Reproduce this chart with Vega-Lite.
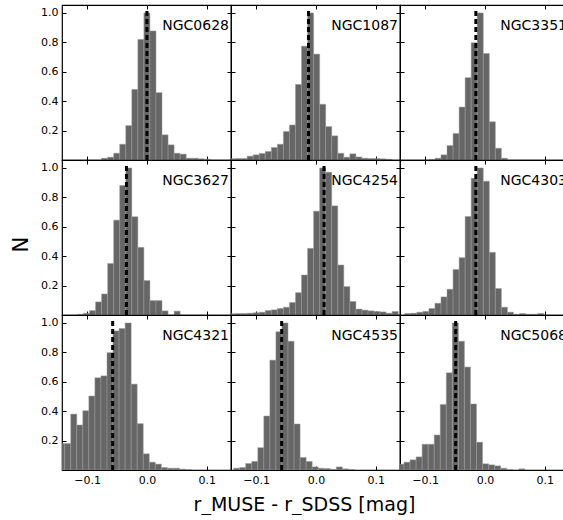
{
  "$schema": "https://vega.github.io/schema/vega-lite/v6.json",
  "padding": {"left": 10, "top": 3, "right": 0, "bottom": 0},
  "config": {
    "font": "DejaVu Sans",
    "view": {"stroke": "black", "strokeWidth": 1.2},
    "axis": {"grid": false, "domain": false, "labelFont": "DejaVu Sans", "labelFontSize": 11, "labelColor": "black", "tickColor": "black", "tickSize": -4, "tickCount": 10, "labelPadding": 8, "labelOverlap": false, "labelFlush": false, "titleFont": "DejaVu Sans", "titleFontWeight": "normal", "titleColor": "black"}
  },
  "title": {"text": "r_MUSE - r_SDSS [mag]", "orient": "bottom", "anchor": "middle", "font": "DejaVu Sans", "fontSize": 19, "fontWeight": "normal", "color": "black", "offset": 10, "dx": 14},
  "datasets": {
    "h": [
      {"g":"NGC0628","lo":-0.0758,"hi":-0.0657,"n":0.012},
      {"g":"NGC0628","lo":-0.0657,"hi":-0.0556,"n":0.019},
      {"g":"NGC0628","lo":-0.0556,"hi":-0.0455,"n":0.046},
      {"g":"NGC0628","lo":-0.0455,"hi":-0.0354,"n":0.107},
      {"g":"NGC0628","lo":-0.0354,"hi":-0.0253,"n":0.234},
      {"g":"NGC0628","lo":-0.0253,"hi":-0.0152,"n":0.48},
      {"g":"NGC0628","lo":-0.0152,"hi":-0.0051,"n":0.82},
      {"g":"NGC0628","lo":-0.0051,"hi":0.0050,"n":1.0},
      {"g":"NGC0628","lo":0.0050,"hi":0.0151,"n":0.878},
      {"g":"NGC0628","lo":0.0151,"hi":0.0252,"n":0.458},
      {"g":"NGC0628","lo":0.0252,"hi":0.0353,"n":0.171},
      {"g":"NGC0628","lo":0.0353,"hi":0.0454,"n":0.103},
      {"g":"NGC0628","lo":0.0454,"hi":0.0555,"n":0.046},
      {"g":"NGC0628","lo":0.0555,"hi":0.0656,"n":0.04},
      {"g":"NGC0628","lo":0.0656,"hi":0.0757,"n":0.012},
      {"g":"NGC0628","lo":0.0757,"hi":0.0858,"n":0.012},
      {"g":"NGC0628","lo":0.0858,"hi":0.0959,"n":0.008},
      {"g":"NGC0628","lo":0.0959,"hi":0.1060,"n":0.005},

      {"g":"NGC1087","lo":-0.1453,"hi":-0.1352,"n":0.008},
      {"g":"NGC1087","lo":-0.1352,"hi":-0.1251,"n":0.01},
      {"g":"NGC1087","lo":-0.1251,"hi":-0.1150,"n":0.01},
      {"g":"NGC1087","lo":-0.1150,"hi":-0.1049,"n":0.026},
      {"g":"NGC1087","lo":-0.1049,"hi":-0.0948,"n":0.035},
      {"g":"NGC1087","lo":-0.0948,"hi":-0.0847,"n":0.044},
      {"g":"NGC1087","lo":-0.0847,"hi":-0.0746,"n":0.058},
      {"g":"NGC1087","lo":-0.0746,"hi":-0.0645,"n":0.085},
      {"g":"NGC1087","lo":-0.0645,"hi":-0.0544,"n":0.107},
      {"g":"NGC1087","lo":-0.0544,"hi":-0.0443,"n":0.193},
      {"g":"NGC1087","lo":-0.0443,"hi":-0.0342,"n":0.238},
      {"g":"NGC1087","lo":-0.0342,"hi":-0.0241,"n":0.514},
      {"g":"NGC1087","lo":-0.0241,"hi":-0.0140,"n":0.774},
      {"g":"NGC1087","lo":-0.0140,"hi":-0.0039,"n":1.0},
      {"g":"NGC1087","lo":-0.0039,"hi":0.0062,"n":0.72},
      {"g":"NGC1087","lo":0.0062,"hi":0.0163,"n":0.379},
      {"g":"NGC1087","lo":0.0163,"hi":0.0264,"n":0.227},
      {"g":"NGC1087","lo":0.0264,"hi":0.0365,"n":0.164},
      {"g":"NGC1087","lo":0.0365,"hi":0.0466,"n":0.046},
      {"g":"NGC1087","lo":0.0466,"hi":0.0567,"n":0.019},
      {"g":"NGC1087","lo":0.0567,"hi":0.0668,"n":0.042},
      {"g":"NGC1087","lo":0.0668,"hi":0.0769,"n":0.021},
      {"g":"NGC1087","lo":0.0769,"hi":0.0870,"n":0.012},
      {"g":"NGC1087","lo":0.0870,"hi":0.0971,"n":0.01},
      {"g":"NGC1087","lo":0.0971,"hi":0.1072,"n":0.01},
      {"g":"NGC1087","lo":0.1072,"hi":0.1173,"n":0.008},
      {"g":"NGC1087","lo":0.1173,"hi":0.1274,"n":0.005},

      {"g":"NGC3351","lo":-0.0937,"hi":-0.0836,"n":0.004},
      {"g":"NGC3351","lo":-0.0836,"hi":-0.0735,"n":0.012},
      {"g":"NGC3351","lo":-0.0735,"hi":-0.0634,"n":0.035},
      {"g":"NGC3351","lo":-0.0634,"hi":-0.0533,"n":0.098},
      {"g":"NGC3351","lo":-0.0533,"hi":-0.0432,"n":0.18},
      {"g":"NGC3351","lo":-0.0432,"hi":-0.0331,"n":0.36},
      {"g":"NGC3351","lo":-0.0331,"hi":-0.0230,"n":0.56},
      {"g":"NGC3351","lo":-0.0230,"hi":-0.0129,"n":0.797},
      {"g":"NGC3351","lo":-0.0129,"hi":-0.0028,"n":1.0},
      {"g":"NGC3351","lo":-0.0028,"hi":0.0073,"n":0.724},
      {"g":"NGC3351","lo":0.0073,"hi":0.0174,"n":0.26},
      {"g":"NGC3351","lo":0.0174,"hi":0.0275,"n":0.08},
      {"g":"NGC3351","lo":0.0275,"hi":0.0376,"n":0.012},

      {"g":"NGC3627","lo":-0.1162,"hi":-0.1061,"n":0.005},
      {"g":"NGC3627","lo":-0.1061,"hi":-0.0960,"n":0.012},
      {"g":"NGC3627","lo":-0.0960,"hi":-0.0859,"n":0.03},
      {"g":"NGC3627","lo":-0.0859,"hi":-0.0758,"n":0.089},
      {"g":"NGC3627","lo":-0.0758,"hi":-0.0657,"n":0.143},
      {"g":"NGC3627","lo":-0.0657,"hi":-0.0556,"n":0.35},
      {"g":"NGC3627","lo":-0.0556,"hi":-0.0455,"n":0.645},
      {"g":"NGC3627","lo":-0.0455,"hi":-0.0354,"n":0.88},
      {"g":"NGC3627","lo":-0.0354,"hi":-0.0253,"n":1.0},
      {"g":"NGC3627","lo":-0.0253,"hi":-0.0152,"n":0.668},
      {"g":"NGC3627","lo":-0.0152,"hi":-0.0051,"n":0.46},
      {"g":"NGC3627","lo":-0.0051,"hi":0.0050,"n":0.234},
      {"g":"NGC3627","lo":0.0050,"hi":0.0151,"n":0.098},
      {"g":"NGC3627","lo":0.0151,"hi":0.0252,"n":0.098},
      {"g":"NGC3627","lo":0.0252,"hi":0.0353,"n":0.028},
      {"g":"NGC3627","lo":0.0454,"hi":0.0555,"n":0.026},

      {"g":"NGC4254","lo":-0.1453,"hi":-0.1352,"n":0.008},
      {"g":"NGC4254","lo":-0.1352,"hi":-0.1251,"n":0.01},
      {"g":"NGC4254","lo":-0.1251,"hi":-0.1150,"n":0.01},
      {"g":"NGC4254","lo":-0.1150,"hi":-0.1049,"n":0.012},
      {"g":"NGC4254","lo":-0.1049,"hi":-0.0948,"n":0.015},
      {"g":"NGC4254","lo":-0.0948,"hi":-0.0847,"n":0.019},
      {"g":"NGC4254","lo":-0.0847,"hi":-0.0746,"n":0.03},
      {"g":"NGC4254","lo":-0.0746,"hi":-0.0645,"n":0.035},
      {"g":"NGC4254","lo":-0.0645,"hi":-0.0544,"n":0.044},
      {"g":"NGC4254","lo":-0.0544,"hi":-0.0443,"n":0.053},
      {"g":"NGC4254","lo":-0.0443,"hi":-0.0342,"n":0.085},
      {"g":"NGC4254","lo":-0.0342,"hi":-0.0241,"n":0.152},
      {"g":"NGC4254","lo":-0.0241,"hi":-0.0140,"n":0.272},
      {"g":"NGC4254","lo":-0.0140,"hi":-0.0039,"n":0.453},
      {"g":"NGC4254","lo":-0.0039,"hi":0.0062,"n":0.706},
      {"g":"NGC4254","lo":0.0062,"hi":0.0163,"n":1.0},
      {"g":"NGC4254","lo":0.0163,"hi":0.0264,"n":0.97},
      {"g":"NGC4254","lo":0.0264,"hi":0.0365,"n":0.742},
      {"g":"NGC4254","lo":0.0365,"hi":0.0466,"n":0.34},
      {"g":"NGC4254","lo":0.0466,"hi":0.0567,"n":0.193},
      {"g":"NGC4254","lo":0.0567,"hi":0.0668,"n":0.092},
      {"g":"NGC4254","lo":0.0668,"hi":0.0769,"n":0.04},
      {"g":"NGC4254","lo":0.0769,"hi":0.0870,"n":0.033},
      {"g":"NGC4254","lo":0.0870,"hi":0.0971,"n":0.028},
      {"g":"NGC4254","lo":0.0971,"hi":0.1072,"n":0.024},
      {"g":"NGC4254","lo":0.1072,"hi":0.1173,"n":0.021},
      {"g":"NGC4254","lo":0.1173,"hi":0.1274,"n":0.012},
      {"g":"NGC4254","lo":0.1274,"hi":0.1375,"n":0.024},

      {"g":"NGC4303","lo":-0.1341,"hi":-0.1240,"n":0.01},
      {"g":"NGC4303","lo":-0.1240,"hi":-0.1139,"n":0.012},
      {"g":"NGC4303","lo":-0.1139,"hi":-0.1038,"n":0.019},
      {"g":"NGC4303","lo":-0.1038,"hi":-0.0937,"n":0.024},
      {"g":"NGC4303","lo":-0.0937,"hi":-0.0836,"n":0.044},
      {"g":"NGC4303","lo":-0.0836,"hi":-0.0735,"n":0.08},
      {"g":"NGC4303","lo":-0.0735,"hi":-0.0634,"n":0.123},
      {"g":"NGC4303","lo":-0.0634,"hi":-0.0533,"n":0.175},
      {"g":"NGC4303","lo":-0.0533,"hi":-0.0432,"n":0.31},
      {"g":"NGC4303","lo":-0.0432,"hi":-0.0331,"n":0.39},
      {"g":"NGC4303","lo":-0.0331,"hi":-0.0230,"n":0.67},
      {"g":"NGC4303","lo":-0.0230,"hi":-0.0129,"n":0.93},
      {"g":"NGC4303","lo":-0.0129,"hi":-0.0028,"n":1.0},
      {"g":"NGC4303","lo":-0.0028,"hi":0.0073,"n":0.91},
      {"g":"NGC4303","lo":0.0073,"hi":0.0174,"n":0.426},
      {"g":"NGC4303","lo":0.0174,"hi":0.0275,"n":0.18},
      {"g":"NGC4303","lo":0.0275,"hi":0.0376,"n":0.053},
      {"g":"NGC4303","lo":0.0376,"hi":0.0477,"n":0.019},
      {"g":"NGC4303","lo":0.0477,"hi":0.0578,"n":0.005},
      {"g":"NGC4303","lo":0.0578,"hi":0.0679,"n":0.01},
      {"g":"NGC4303","lo":0.0679,"hi":0.0780,"n":0.005},
      {"g":"NGC4303","lo":0.0780,"hi":0.0881,"n":0.005},
      {"g":"NGC4303","lo":0.0881,"hi":0.0982,"n":0.01},

      {"g":"NGC4321","lo":-0.1476,"hi":-0.1375,"n":0.18},
      {"g":"NGC4321","lo":-0.1375,"hi":-0.1274,"n":0.18},
      {"g":"NGC4321","lo":-0.1274,"hi":-0.1173,"n":0.38},
      {"g":"NGC4321","lo":-0.1173,"hi":-0.1072,"n":0.306},
      {"g":"NGC4321","lo":-0.1072,"hi":-0.0971,"n":0.403},
      {"g":"NGC4321","lo":-0.0971,"hi":-0.0870,"n":0.503},
      {"g":"NGC4321","lo":-0.0870,"hi":-0.0769,"n":0.627},
      {"g":"NGC4321","lo":-0.0769,"hi":-0.0668,"n":0.64},
      {"g":"NGC4321","lo":-0.0668,"hi":-0.0567,"n":0.798},
      {"g":"NGC4321","lo":-0.0567,"hi":-0.0466,"n":0.946},
      {"g":"NGC4321","lo":-0.0466,"hi":-0.0365,"n":0.962},
      {"g":"NGC4321","lo":-0.0365,"hi":-0.0264,"n":1.0},
      {"g":"NGC4321","lo":-0.0264,"hi":-0.0163,"n":0.584},
      {"g":"NGC4321","lo":-0.0163,"hi":-0.0062,"n":0.315},
      {"g":"NGC4321","lo":-0.0062,"hi":0.0039,"n":0.11},
      {"g":"NGC4321","lo":0.0039,"hi":0.0140,"n":0.053},
      {"g":"NGC4321","lo":0.0140,"hi":0.0241,"n":0.04},
      {"g":"NGC4321","lo":0.0241,"hi":0.0342,"n":0.017},
      {"g":"NGC4321","lo":0.0342,"hi":0.0443,"n":0.012},
      {"g":"NGC4321","lo":0.0443,"hi":0.0544,"n":0.012},
      {"g":"NGC4321","lo":0.0544,"hi":0.0645,"n":0.006},
      {"g":"NGC4321","lo":0.0645,"hi":0.0746,"n":0.003},

      {"g":"NGC4535","lo":-0.1376,"hi":-0.1275,"n":0.012},
      {"g":"NGC4535","lo":-0.1275,"hi":-0.1174,"n":0.017},
      {"g":"NGC4535","lo":-0.1174,"hi":-0.1073,"n":0.044},
      {"g":"NGC4535","lo":-0.1073,"hi":-0.0972,"n":0.058},
      {"g":"NGC4535","lo":-0.0972,"hi":-0.0871,"n":0.152},
      {"g":"NGC4535","lo":-0.0871,"hi":-0.0770,"n":0.367},
      {"g":"NGC4535","lo":-0.0770,"hi":-0.0669,"n":0.747},
      {"g":"NGC4535","lo":-0.0669,"hi":-0.0568,"n":0.94},
      {"g":"NGC4535","lo":-0.0568,"hi":-0.0467,"n":1.0},
      {"g":"NGC4535","lo":-0.0467,"hi":-0.0366,"n":0.876},
      {"g":"NGC4535","lo":-0.0366,"hi":-0.0265,"n":0.313},
      {"g":"NGC4535","lo":-0.0265,"hi":-0.0164,"n":0.085},
      {"g":"NGC4535","lo":-0.0164,"hi":-0.0063,"n":0.058},
      {"g":"NGC4535","lo":-0.0063,"hi":0.0038,"n":0.021},
      {"g":"NGC4535","lo":0.0038,"hi":0.0139,"n":0.012},
      {"g":"NGC4535","lo":0.0139,"hi":0.0240,"n":0.01},
      {"g":"NGC4535","lo":0.0240,"hi":0.0341,"n":0.005},
      {"g":"NGC4535","lo":0.0341,"hi":0.0442,"n":0.021},
      {"g":"NGC4535","lo":0.0442,"hi":0.0543,"n":0.008},
      {"g":"NGC4535","lo":0.0543,"hi":0.0644,"n":0.004},

      {"g":"NGC5068","lo":-0.1454,"hi":-0.1353,"n":0.04},
      {"g":"NGC5068","lo":-0.1353,"hi":-0.1252,"n":0.053},
      {"g":"NGC5068","lo":-0.1252,"hi":-0.1151,"n":0.069},
      {"g":"NGC5068","lo":-0.1151,"hi":-0.1050,"n":0.089},
      {"g":"NGC5068","lo":-0.1050,"hi":-0.0949,"n":0.175},
      {"g":"NGC5068","lo":-0.0949,"hi":-0.0848,"n":0.175},
      {"g":"NGC5068","lo":-0.0848,"hi":-0.0747,"n":0.238},
      {"g":"NGC5068","lo":-0.0747,"hi":-0.0646,"n":0.446},
      {"g":"NGC5068","lo":-0.0646,"hi":-0.0545,"n":0.661},
      {"g":"NGC5068","lo":-0.0545,"hi":-0.0444,"n":1.0},
      {"g":"NGC5068","lo":-0.0444,"hi":-0.0343,"n":0.876},
      {"g":"NGC5068","lo":-0.0343,"hi":-0.0242,"n":0.70},
      {"g":"NGC5068","lo":-0.0242,"hi":-0.0141,"n":0.449},
      {"g":"NGC5068","lo":-0.0141,"hi":-0.0040,"n":0.189},
      {"g":"NGC5068","lo":-0.0040,"hi":0.0061,"n":0.042},
      {"g":"NGC5068","lo":0.0061,"hi":0.0162,"n":0.035},
      {"g":"NGC5068","lo":0.0162,"hi":0.0263,"n":0.028},
      {"g":"NGC5068","lo":0.0263,"hi":0.0364,"n":0.012},
      {"g":"NGC5068","lo":0.0364,"hi":0.0465,"n":0.004},
      {"g":"NGC5068","lo":0.0566,"hi":0.0667,"n":0.008}
    ],
    "m": [
      {"g":"NGC0628","med":0.0},
      {"g":"NGC1087","med":-0.0124},
      {"g":"NGC3351","med":-0.0152},
      {"g":"NGC3627","med":-0.0343},
      {"g":"NGC4254","med":0.0135},
      {"g":"NGC4303","med":-0.0152},
      {"g":"NGC4321","med":-0.0573},
      {"g":"NGC4535","med":-0.0573},
      {"g":"NGC5068","med":-0.0489}
    ]
  },
  "vconcat": [
    {
      "title": {"text": "N", "orient": "left", "anchor": "middle", "font": "DejaVu Sans", "fontSize": 21, "fontWeight": "normal", "color": "black", "offset": 8},
      "columns": 3,
      "spacing": 0,
      "bounds": "flush",
      "concat": [
        {"width": 169, "height": 155, "resolve": {"axis": {"x": "independent", "y": "independent"}}, "layer": [
          {"data": {"name": "h"}, "transform": [{"filter": "datum.g == 'NGC0628'"}], "mark": {"type": "rect", "fill": "#666666", "stroke": "#9a9a9a", "strokeWidth": 0.5, "clip": true},
           "encoding": {"x": {"field": "lo", "type": "quantitative", "title": null, "scale": {"domain": [-0.142, 0.1405], "nice": false, "zero": false}, "axis": {"values": [-0.1, 0, 0.1], "labels": false}}, "x2": {"field": "hi"},
                        "y": {"field": "n", "type": "quantitative", "title": null, "scale": {"domain": [0, 1.054], "nice": false}, "axis": {"values": [0.2, 0.4, 0.6, 0.8, 1.0], "format": ".1f"}}, "y2": {"datum": 0}}},
          {"data": {"name": "m"}, "transform": [{"filter": "datum.g == 'NGC0628'"}], "mark": {"type": "rule", "color": "black", "strokeWidth": 3, "strokeDash": [5, 3]},
           "encoding": {"x": {"field": "med", "type": "quantitative", "title": null, "axis": {"orient": "top", "values": [-0.1, 0, 0.1], "labels": false}},
                        "y": {"datum": 0, "type": "quantitative", "title": null, "axis": {"orient": "right", "values": [0.2, 0.4, 0.6, 0.8, 1.0], "labels": false}}, "y2": {"datum": 1.025}}},
          {"data": {"name": "m"}, "transform": [{"filter": "datum.g == 'NGC0628'"}], "mark": {"type": "text", "align": "right", "baseline": "alphabetic", "fontSize": 14, "color": "black", "dx": -2},
           "encoding": {"x": {"datum": 0.1405, "axis": null}, "y": {"datum": 0.885, "axis": null}, "text": {"field": "g"}}}
        ]},
        {"width": 169, "height": 155, "resolve": {"axis": {"x": "independent", "y": "independent"}}, "layer": [
          {"data": {"name": "h"}, "transform": [{"filter": "datum.g == 'NGC1087'"}], "mark": {"type": "rect", "fill": "#666666", "stroke": "#9a9a9a", "strokeWidth": 0.5, "clip": true},
           "encoding": {"x": {"field": "lo", "type": "quantitative", "title": null, "scale": {"domain": [-0.142, 0.1405], "nice": false, "zero": false}, "axis": {"values": [-0.1, 0, 0.1], "labels": false}}, "x2": {"field": "hi"},
                        "y": {"field": "n", "type": "quantitative", "title": null, "scale": {"domain": [0, 1.054], "nice": false}, "axis": {"values": [0.2, 0.4, 0.6, 0.8, 1.0], "labels": false}}, "y2": {"datum": 0}}},
          {"data": {"name": "m"}, "transform": [{"filter": "datum.g == 'NGC1087'"}], "mark": {"type": "rule", "color": "black", "strokeWidth": 3, "strokeDash": [5, 3]},
           "encoding": {"x": {"field": "med", "type": "quantitative", "title": null, "axis": {"orient": "top", "values": [-0.1, 0, 0.1], "labels": false}},
                        "y": {"datum": 0, "type": "quantitative", "title": null, "axis": {"orient": "right", "values": [0.2, 0.4, 0.6, 0.8, 1.0], "labels": false}}, "y2": {"datum": 1.025}}},
          {"data": {"name": "m"}, "transform": [{"filter": "datum.g == 'NGC1087'"}], "mark": {"type": "text", "align": "right", "baseline": "alphabetic", "fontSize": 14, "color": "black", "dx": -2},
           "encoding": {"x": {"datum": 0.1405, "axis": null}, "y": {"datum": 0.885, "axis": null}, "text": {"field": "g"}}}
        ]},
        {"width": 169, "height": 155, "resolve": {"axis": {"x": "independent", "y": "independent"}}, "layer": [
          {"data": {"name": "h"}, "transform": [{"filter": "datum.g == 'NGC3351'"}], "mark": {"type": "rect", "fill": "#666666", "stroke": "#9a9a9a", "strokeWidth": 0.5, "clip": true},
           "encoding": {"x": {"field": "lo", "type": "quantitative", "title": null, "scale": {"domain": [-0.142, 0.1405], "nice": false, "zero": false}, "axis": {"values": [-0.1, 0, 0.1], "labels": false}}, "x2": {"field": "hi"},
                        "y": {"field": "n", "type": "quantitative", "title": null, "scale": {"domain": [0, 1.054], "nice": false}, "axis": {"values": [0.2, 0.4, 0.6, 0.8, 1.0], "labels": false}}, "y2": {"datum": 0}}},
          {"data": {"name": "m"}, "transform": [{"filter": "datum.g == 'NGC3351'"}], "mark": {"type": "rule", "color": "black", "strokeWidth": 3, "strokeDash": [5, 3]},
           "encoding": {"x": {"field": "med", "type": "quantitative", "title": null, "axis": {"orient": "top", "values": [-0.1, 0, 0.1], "labels": false}},
                        "y": {"datum": 0, "type": "quantitative", "title": null, "axis": {"orient": "right", "values": [0.2, 0.4, 0.6, 0.8, 1.0], "labels": false}}, "y2": {"datum": 1.025}}},
          {"data": {"name": "m"}, "transform": [{"filter": "datum.g == 'NGC3351'"}], "mark": {"type": "text", "align": "right", "baseline": "alphabetic", "fontSize": 14, "color": "black", "dx": -2},
           "encoding": {"x": {"datum": 0.1405, "axis": null}, "y": {"datum": 0.885, "axis": null}, "text": {"field": "g"}}}
        ]},
        {"width": 169, "height": 155, "resolve": {"axis": {"x": "independent", "y": "independent"}}, "layer": [
          {"data": {"name": "h"}, "transform": [{"filter": "datum.g == 'NGC3627'"}], "mark": {"type": "rect", "fill": "#666666", "stroke": "#9a9a9a", "strokeWidth": 0.5, "clip": true},
           "encoding": {"x": {"field": "lo", "type": "quantitative", "title": null, "scale": {"domain": [-0.142, 0.1405], "nice": false, "zero": false}, "axis": {"values": [-0.1, 0, 0.1], "labels": false}}, "x2": {"field": "hi"},
                        "y": {"field": "n", "type": "quantitative", "title": null, "scale": {"domain": [0, 1.054], "nice": false}, "axis": {"values": [0.2, 0.4, 0.6, 0.8, 1.0], "format": ".1f"}}, "y2": {"datum": 0}}},
          {"data": {"name": "m"}, "transform": [{"filter": "datum.g == 'NGC3627'"}], "mark": {"type": "rule", "color": "black", "strokeWidth": 3, "strokeDash": [5, 3]},
           "encoding": {"x": {"field": "med", "type": "quantitative", "title": null, "axis": {"orient": "top", "values": [-0.1, 0, 0.1], "labels": false}},
                        "y": {"datum": 0, "type": "quantitative", "title": null, "axis": {"orient": "right", "values": [0.2, 0.4, 0.6, 0.8, 1.0], "labels": false}}, "y2": {"datum": 1.025}}},
          {"data": {"name": "m"}, "transform": [{"filter": "datum.g == 'NGC3627'"}], "mark": {"type": "text", "align": "right", "baseline": "alphabetic", "fontSize": 14, "color": "black", "dx": -2},
           "encoding": {"x": {"datum": 0.1405, "axis": null}, "y": {"datum": 0.885, "axis": null}, "text": {"field": "g"}}}
        ]},
        {"width": 169, "height": 155, "resolve": {"axis": {"x": "independent", "y": "independent"}}, "layer": [
          {"data": {"name": "h"}, "transform": [{"filter": "datum.g == 'NGC4254'"}], "mark": {"type": "rect", "fill": "#666666", "stroke": "#9a9a9a", "strokeWidth": 0.5, "clip": true},
           "encoding": {"x": {"field": "lo", "type": "quantitative", "title": null, "scale": {"domain": [-0.142, 0.1405], "nice": false, "zero": false}, "axis": {"values": [-0.1, 0, 0.1], "labels": false}}, "x2": {"field": "hi"},
                        "y": {"field": "n", "type": "quantitative", "title": null, "scale": {"domain": [0, 1.054], "nice": false}, "axis": {"values": [0.2, 0.4, 0.6, 0.8, 1.0], "labels": false}}, "y2": {"datum": 0}}},
          {"data": {"name": "m"}, "transform": [{"filter": "datum.g == 'NGC4254'"}], "mark": {"type": "rule", "color": "black", "strokeWidth": 3, "strokeDash": [5, 3]},
           "encoding": {"x": {"field": "med", "type": "quantitative", "title": null, "axis": {"orient": "top", "values": [-0.1, 0, 0.1], "labels": false}},
                        "y": {"datum": 0, "type": "quantitative", "title": null, "axis": {"orient": "right", "values": [0.2, 0.4, 0.6, 0.8, 1.0], "labels": false}}, "y2": {"datum": 1.025}}},
          {"data": {"name": "m"}, "transform": [{"filter": "datum.g == 'NGC4254'"}], "mark": {"type": "text", "align": "right", "baseline": "alphabetic", "fontSize": 14, "color": "black", "dx": -2},
           "encoding": {"x": {"datum": 0.1405, "axis": null}, "y": {"datum": 0.885, "axis": null}, "text": {"field": "g"}}}
        ]},
        {"width": 169, "height": 155, "resolve": {"axis": {"x": "independent", "y": "independent"}}, "layer": [
          {"data": {"name": "h"}, "transform": [{"filter": "datum.g == 'NGC4303'"}], "mark": {"type": "rect", "fill": "#666666", "stroke": "#9a9a9a", "strokeWidth": 0.5, "clip": true},
           "encoding": {"x": {"field": "lo", "type": "quantitative", "title": null, "scale": {"domain": [-0.142, 0.1405], "nice": false, "zero": false}, "axis": {"values": [-0.1, 0, 0.1], "labels": false}}, "x2": {"field": "hi"},
                        "y": {"field": "n", "type": "quantitative", "title": null, "scale": {"domain": [0, 1.054], "nice": false}, "axis": {"values": [0.2, 0.4, 0.6, 0.8, 1.0], "labels": false}}, "y2": {"datum": 0}}},
          {"data": {"name": "m"}, "transform": [{"filter": "datum.g == 'NGC4303'"}], "mark": {"type": "rule", "color": "black", "strokeWidth": 3, "strokeDash": [5, 3]},
           "encoding": {"x": {"field": "med", "type": "quantitative", "title": null, "axis": {"orient": "top", "values": [-0.1, 0, 0.1], "labels": false}},
                        "y": {"datum": 0, "type": "quantitative", "title": null, "axis": {"orient": "right", "values": [0.2, 0.4, 0.6, 0.8, 1.0], "labels": false}}, "y2": {"datum": 1.025}}},
          {"data": {"name": "m"}, "transform": [{"filter": "datum.g == 'NGC4303'"}], "mark": {"type": "text", "align": "right", "baseline": "alphabetic", "fontSize": 14, "color": "black", "dx": -2},
           "encoding": {"x": {"datum": 0.1405, "axis": null}, "y": {"datum": 0.885, "axis": null}, "text": {"field": "g"}}}
        ]},
        {"width": 169, "height": 155, "resolve": {"axis": {"x": "independent", "y": "independent"}}, "layer": [
          {"data": {"name": "h"}, "transform": [{"filter": "datum.g == 'NGC4321'"}], "mark": {"type": "rect", "fill": "#666666", "stroke": "#9a9a9a", "strokeWidth": 0.5, "clip": true},
           "encoding": {"x": {"field": "lo", "type": "quantitative", "title": null, "scale": {"domain": [-0.142, 0.1405], "nice": false, "zero": false}, "axis": {"values": [-0.1, 0, 0.1], "format": ".1f"}}, "x2": {"field": "hi"},
                        "y": {"field": "n", "type": "quantitative", "title": null, "scale": {"domain": [0, 1.054], "nice": false}, "axis": {"values": [0.2, 0.4, 0.6, 0.8, 1.0], "format": ".1f"}}, "y2": {"datum": 0}}},
          {"data": {"name": "m"}, "transform": [{"filter": "datum.g == 'NGC4321'"}], "mark": {"type": "rule", "color": "black", "strokeWidth": 3, "strokeDash": [5, 3]},
           "encoding": {"x": {"field": "med", "type": "quantitative", "title": null, "axis": {"orient": "top", "values": [-0.1, 0, 0.1], "labels": false}},
                        "y": {"datum": 0, "type": "quantitative", "title": null, "axis": {"orient": "right", "values": [0.2, 0.4, 0.6, 0.8, 1.0], "labels": false}}, "y2": {"datum": 1.025}}},
          {"data": {"name": "m"}, "transform": [{"filter": "datum.g == 'NGC4321'"}], "mark": {"type": "text", "align": "right", "baseline": "alphabetic", "fontSize": 14, "color": "black", "dx": -2},
           "encoding": {"x": {"datum": 0.1405, "axis": null}, "y": {"datum": 0.885, "axis": null}, "text": {"field": "g"}}}
        ]},
        {"width": 169, "height": 155, "resolve": {"axis": {"x": "independent", "y": "independent"}}, "layer": [
          {"data": {"name": "h"}, "transform": [{"filter": "datum.g == 'NGC4535'"}], "mark": {"type": "rect", "fill": "#666666", "stroke": "#9a9a9a", "strokeWidth": 0.5, "clip": true},
           "encoding": {"x": {"field": "lo", "type": "quantitative", "title": null, "scale": {"domain": [-0.142, 0.1405], "nice": false, "zero": false}, "axis": {"values": [-0.1, 0, 0.1], "format": ".1f"}}, "x2": {"field": "hi"},
                        "y": {"field": "n", "type": "quantitative", "title": null, "scale": {"domain": [0, 1.054], "nice": false}, "axis": {"values": [0.2, 0.4, 0.6, 0.8, 1.0], "labels": false}}, "y2": {"datum": 0}}},
          {"data": {"name": "m"}, "transform": [{"filter": "datum.g == 'NGC4535'"}], "mark": {"type": "rule", "color": "black", "strokeWidth": 3, "strokeDash": [5, 3]},
           "encoding": {"x": {"field": "med", "type": "quantitative", "title": null, "axis": {"orient": "top", "values": [-0.1, 0, 0.1], "labels": false}},
                        "y": {"datum": 0, "type": "quantitative", "title": null, "axis": {"orient": "right", "values": [0.2, 0.4, 0.6, 0.8, 1.0], "labels": false}}, "y2": {"datum": 1.025}}},
          {"data": {"name": "m"}, "transform": [{"filter": "datum.g == 'NGC4535'"}], "mark": {"type": "text", "align": "right", "baseline": "alphabetic", "fontSize": 14, "color": "black", "dx": -2},
           "encoding": {"x": {"datum": 0.1405, "axis": null}, "y": {"datum": 0.885, "axis": null}, "text": {"field": "g"}}}
        ]},
        {"width": 169, "height": 155, "resolve": {"axis": {"x": "independent", "y": "independent"}}, "layer": [
          {"data": {"name": "h"}, "transform": [{"filter": "datum.g == 'NGC5068'"}], "mark": {"type": "rect", "fill": "#666666", "stroke": "#9a9a9a", "strokeWidth": 0.5, "clip": true},
           "encoding": {"x": {"field": "lo", "type": "quantitative", "title": null, "scale": {"domain": [-0.142, 0.1405], "nice": false, "zero": false}, "axis": {"values": [-0.1, 0, 0.1], "format": ".1f"}}, "x2": {"field": "hi"},
                        "y": {"field": "n", "type": "quantitative", "title": null, "scale": {"domain": [0, 1.054], "nice": false}, "axis": {"values": [0.2, 0.4, 0.6, 0.8, 1.0], "labels": false}}, "y2": {"datum": 0}}},
          {"data": {"name": "m"}, "transform": [{"filter": "datum.g == 'NGC5068'"}], "mark": {"type": "rule", "color": "black", "strokeWidth": 3, "strokeDash": [5, 3]},
           "encoding": {"x": {"field": "med", "type": "quantitative", "title": null, "axis": {"orient": "top", "values": [-0.1, 0, 0.1], "labels": false}},
                        "y": {"datum": 0, "type": "quantitative", "title": null, "axis": {"orient": "right", "values": [0.2, 0.4, 0.6, 0.8, 1.0], "labels": false}}, "y2": {"datum": 1.025}}},
          {"data": {"name": "m"}, "transform": [{"filter": "datum.g == 'NGC5068'"}], "mark": {"type": "text", "align": "right", "baseline": "alphabetic", "fontSize": 14, "color": "black", "dx": -2},
           "encoding": {"x": {"datum": 0.1405, "axis": null}, "y": {"datum": 0.885, "axis": null}, "text": {"field": "g"}}}
        ]}
      ]
    }
  ]
}
